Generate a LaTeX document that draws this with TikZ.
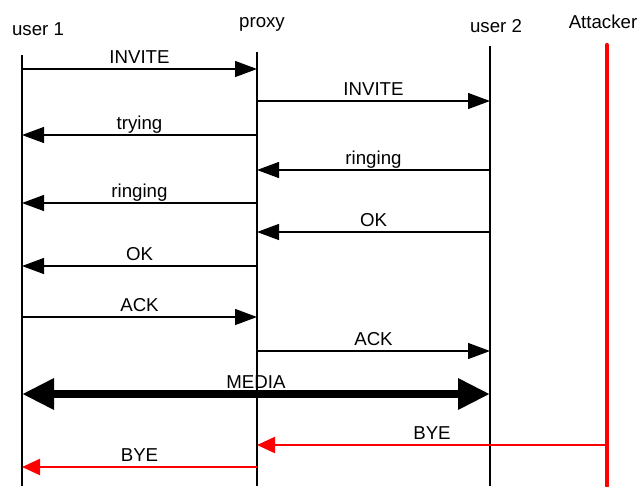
\documentclass[tikz,border=0pt]{standalone}
\usepackage{fontspec}
\setmainfont{Liberation Sans}
\usetikzlibrary{arrows.meta}
\begin{document}
\begin{tikzpicture}[x=0.75pt,y=-0.75pt,
  every node/.style={font=\fontsize{14}{16}\selectfont, inner sep=0pt},
  life/.style={line width=0.9pt, black},
  msg/.style={line width=0.9pt, -{Triangle[length=16.5pt,width=12pt]}},
  redmsg/.style={line width=1.6pt, red, -{Triangle[length=13.5pt,width=12pt]}},
  media/.style={line width=6pt, {Triangle[length=24pt,width=22pt]}-{Triangle[length=24pt,width=22pt]}},
  lbl/.style={midway, anchor=base, yshift=4.5pt},
  head/.style={anchor=base}]
\useasboundingbox (0,0) rectangle (641,486);
% heads
\node[head] (h1) at (38,35) {user 1};
\node[head] (hp) at (262,27) {proxy};
\node[head] (h2) at (496,32) {user 2};
\node[head] (ha) at (603,28) {Attacker};
% lifelines
\coordinate (u1) at (22,55);   \coordinate (u1e) at (22,486);
\coordinate (px) at (257,52);  \coordinate (pxe) at (257,486);
\coordinate (u2) at (490,46);  \coordinate (u2e) at (490,486);
\coordinate (at) at (607,45);  \coordinate (ate) at (607,486);
\draw[life] (u1) -- (u1e);
\draw[life] (px) -- (pxe);
\draw[life] (u2) -- (u2e);
\draw[line width=3.2pt, red, line cap=round] (at) -- (ate);
% messages
\draw[msg] (u1 |- 0,69) -- (px |- 0,69) node[lbl] {INVITE};
\draw[msg] (px |- 0,101) -- (u2 |- 0,101) node[lbl] {INVITE};
\draw[msg] (px |- 0,135) -- (u1 |- 0,135) node[lbl] {trying};
\draw[msg] (u2 |- 0,170) -- (px |- 0,170) node[lbl] {ringing};
\draw[msg] (px |- 0,203) -- (u1 |- 0,203) node[lbl] {ringing};
\draw[msg] (u2 |- 0,232) -- (px |- 0,232) node[lbl] {OK};
\draw[msg] (px |- 0,266) -- (u1 |- 0,266) node[lbl] {OK};
\draw[msg] (u1 |- 0,317) -- (px |- 0,317) node[lbl] {ACK};
\draw[msg] (px |- 0,351) -- (u2 |- 0,351) node[lbl] {ACK};
\draw[media] (u1 |- 0,394) -- (u2 |- 0,394) node[lbl] {MEDIA};
\draw[redmsg] (at |- 0,445) -- (px |- 0,445);
\path (at |- 0,445) -- (px |- 0,445) node[lbl] {BYE};
\draw[redmsg] (px |- 0,467) -- (u1 |- 0,467) node[lbl, black] {BYE};
\end{tikzpicture}
\end{document}
